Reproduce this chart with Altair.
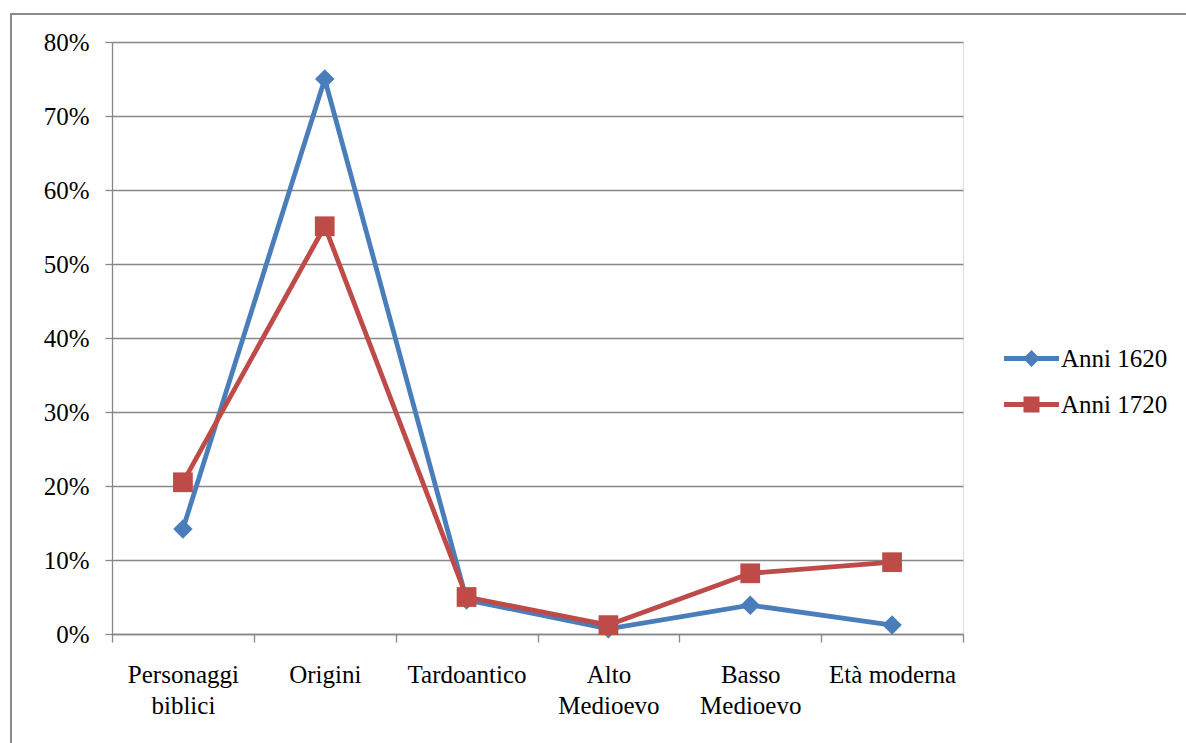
import altair as alt
import pandas as pd

categories = ["Personaggi biblici", "Origini", "Tardoantico", "Alto Medioevo", "Basso Medioevo", "Età moderna"]
series_names = ["Anni 1620", "Anni 1720"]
anni_1620 = [0.142, 0.750, 0.046, 0.007, 0.039, 0.012]
anni_1720 = [0.205, 0.551, 0.050, 0.012, 0.082, 0.097]
y_ticks = [0.0, 0.1, 0.2, 0.3, 0.4, 0.5, 0.6, 0.7, 0.8]
colors = ["#4A7EBB", "#BE4B48"]

rows = []
for s, vals in zip(series_names, [anni_1620, anni_1720]):
    for c, v in zip(categories, vals):
        rows.append({"categoria": c, "serie": s, "valore": v})
df = pd.DataFrame(rows)

FONT = "Liberation Serif"
FS = 25
GRID = "#878787"

x_enc = alt.X(
    "categoria:N",
    sort=categories,
    scale=alt.Scale(type="band", domain=categories, paddingInner=0, paddingOuter=0),
    axis=alt.Axis(
        title=None, tickBand="extent", tickSize=8, labelAngle=0, labelPadding=20,
        labelExpr="datum.label == 'Età moderna' ? datum.label : split(datum.label, ' ')",
        labelLineHeight=31, labelFont=FONT, labelFontSize=FS, labelColor="black",
        domainColor=GRID, tickColor=GRID, domainWidth=1.3, tickWidth=1.3, grid=False,
    ),
)
y_enc = alt.Y(
    "valore:Q",
    scale=alt.Scale(domain=[0, 0.8], nice=False, zero=True),
    axis=alt.Axis(
        title=None, values=y_ticks, format=".0%", tickSize=7, labelPadding=16,
        labelFont=FONT, labelFontSize=FS, labelColor="black",
        domainColor=GRID, tickColor=GRID, gridColor=GRID, grid=True,
        domainWidth=1.3, tickWidth=1.3, gridWidth=1.3,
    ),
)

base = alt.Chart(df)
s1 = base.transform_filter(alt.datum.serie == series_names[0])
s2 = base.transform_filter(alt.datum.serie == series_names[1])

line_1620 = s1.mark_line(strokeWidth=4.8, color=colors[0]).encode(x=x_enc, y=y_enc)
pts_1620 = s1.mark_point(shape="diamond", filled=True, size=380, opacity=1, color=colors[0]).encode(x=x_enc, y=y_enc)
line_1720 = s2.mark_line(strokeWidth=4.8, color=colors[1]).encode(x=x_enc, y=y_enc)
pts_1720 = s2.mark_point(shape="square", filled=True, size=390, opacity=1, color=colors[1]).encode(x=x_enc, y=y_enc)

# legend symbols: line + marker, unit = 10px (size 400)
diamond_sym = "M-2.75,-0.24L2.75,-0.24L2.75,0.24L-2.75,0.24Z M0,-0.85L0.85,0L0,0.85L-0.85,0Z"
square_sym = "M-2.75,-0.24L2.75,-0.24L2.75,0.24L-2.75,0.24Z M-0.8,-0.8L0.8,-0.8L0.8,0.8L-0.8,0.8Z"

leg_props = dict(
    title=None, orient="none", legendX=907, legendY=304, padding=0,
    labelFont=FONT, labelFontSize=FS, labelColor="black", labelOffset=17,
    rowPadding=20, symbolSize=400, symbolStrokeWidth=0, symbolOpacity=1,
)
legend_layer = base.mark_point(filled=True, size=400, opacity=0).encode(
    x=x_enc, y=y_enc,
    color=alt.Color("serie:N", scale=alt.Scale(domain=series_names, range=colors),
                    legend=alt.Legend(**leg_props)),
    shape=alt.Shape("serie:N", scale=alt.Scale(domain=series_names, range=[diamond_sym, square_sym]),
                    legend=alt.Legend(**leg_props)),
)

border = alt.Chart(alt.Data(values=[{"b": 1}])).mark_rect(
    fill=None, stroke="#8A8A8A", strokeWidth=2
).encode(
    x=alt.value(-101), x2=alt.value(1186 - 112 + 20),
    y=alt.value(-28), y2=alt.value(743 - 42 + 20),
)

chart = alt.layer(
    border, legend_layer, line_1620, pts_1620, line_1720, pts_1720,
).properties(
    width=851, height=592,
    autosize=alt.AutoSizeParams(type="none"),
    padding={"left": 112, "top": 42, "right": 223, "bottom": 109},
).configure_view(stroke=None).configure(background="white")

chart.save("out.html", embed_options={"renderer": "svg", "actions": False})
